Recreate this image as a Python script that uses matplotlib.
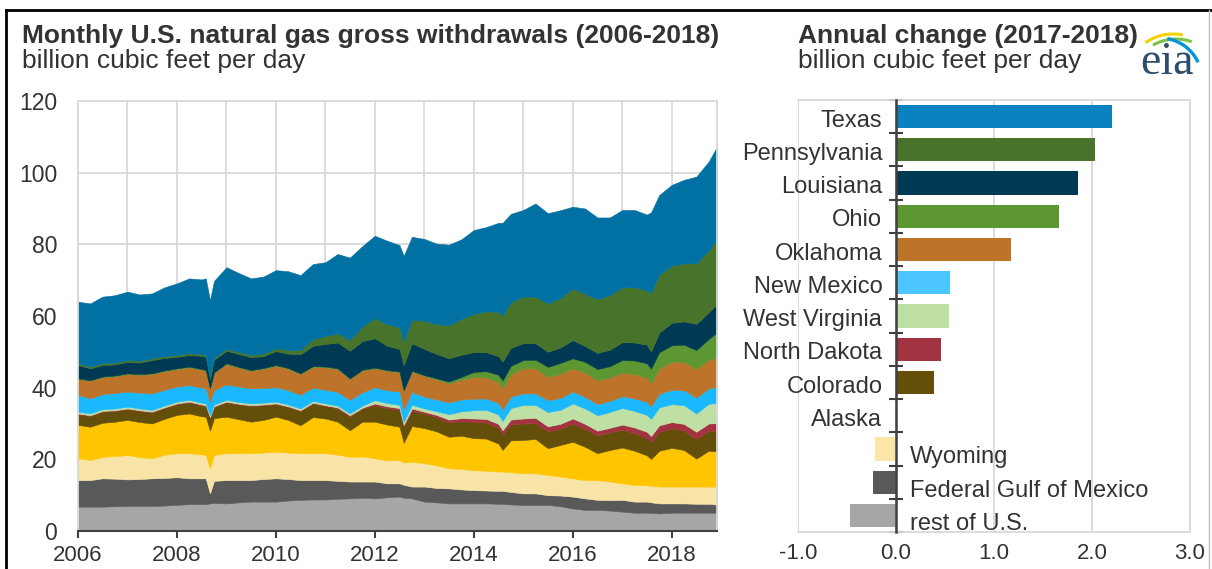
import matplotlib
matplotlib.use("Agg")
import matplotlib.pyplot as plt
import matplotlib.dates as mdates
from matplotlib.lines import Line2D
from matplotlib.patches import Arc
import pandas as pd

plt.rcParams["font.family"] = ["Liberation Sans", "DejaVu Sans"]

# monthly snapshots (bcf/d), stacked bottom -> top
months = ["2006-01", "2006-04", "2006-07", "2006-10", "2007-01", "2007-04", "2007-07", "2007-10",
          "2008-01", "2008-04", "2008-07", "2008-08", "2008-09", "2008-10", "2009-01", "2009-04",
          "2009-07", "2009-10", "2010-01", "2010-04", "2010-07", "2010-10", "2011-01", "2011-04",
          "2011-07", "2011-10", "2012-01", "2012-04", "2012-07", "2012-08", "2012-10", "2013-01",
          "2013-04", "2013-07", "2013-10", "2014-01", "2014-04", "2014-07", "2014-08", "2014-10",
          "2015-01", "2015-04", "2015-07", "2015-10", "2016-01", "2016-04", "2016-07", "2016-10",
          "2017-01", "2017-04", "2017-07", "2017-08", "2017-10", "2018-01", "2018-04", "2018-07",
          "2018-10", "2018-12"]

rest_of_us = [6.8, 6.8, 6.8, 6.9, 7.0, 7.0, 7.0, 7.1, 7.3, 7.5, 7.5, 7.5, 7.7, 7.8, 7.7, 8.0,
              8.2, 8.2, 8.2, 8.5, 8.7, 8.8, 8.8, 9.0, 9.1, 9.3, 9.1, 9.4, 9.6, 9.3, 9.1, 8.2,
              8.0, 7.7, 7.7, 7.7, 7.7, 7.6, 7.6, 7.4, 7.3, 7.3, 7.3, 6.9, 6.3, 5.9, 5.9, 5.7,
              5.4, 5.1, 5.1, 5.1, 4.9, 5.1, 5.1, 5.1, 5.1, 5.1]
gulf_of_mexico = [7.4, 7.4, 7.9, 7.7, 7.4, 7.5, 7.7, 7.7, 7.7, 7.2, 7.2, 7.2, 2.8, 6.2, 6.5, 6.2,
                  6.0, 6.3, 6.5, 6.0, 5.5, 5.4, 5.4, 5.0, 4.7, 4.5, 4.7, 3.9, 3.7, 3.6, 3.3, 4.2,
                  4.0, 4.2, 3.9, 3.7, 3.6, 3.6, 3.6, 3.5, 3.2, 3.2, 2.7, 3.0, 3.3, 3.2, 2.8, 2.9,
                  3.3, 3.1, 3.1, 2.9, 2.8, 2.6, 2.6, 2.5, 2.5, 2.3]
wyoming = [6.1, 5.6, 6.0, 6.3, 6.8, 6.1, 5.6, 6.5, 6.7, 7.0, 6.7, 6.5, 7.0, 7.2, 7.5, 7.5,
           7.5, 7.4, 7.4, 7.4, 7.5, 7.5, 7.5, 7.3, 6.9, 7.0, 6.5, 6.4, 6.5, 6.2, 6.9, 6.5,
           6.3, 5.6, 5.7, 5.6, 5.5, 5.4, 5.4, 5.5, 5.6, 5.6, 5.6, 5.3, 5.1, 5.1, 5.5, 5.2,
           4.6, 4.6, 4.6, 4.6, 4.7, 4.7, 4.7, 4.8, 4.8, 5.0]
alaska = [9.3, 9.3, 9.5, 9.6, 9.8, 9.8, 9.7, 10.0, 10.7, 11.1, 10.6, 10.7, 10.5, 10.3, 10.2, 9.5,
          8.8, 9.1, 9.8, 9.1, 7.8, 10.1, 9.7, 9.2, 7.4, 9.7, 10.2, 10.0, 9.3, 5.5, 10.0, 9.8,
          9.5, 8.8, 9.3, 8.9, 9.0, 7.8, 6.0, 8.9, 9.3, 9.6, 7.5, 8.8, 10.2, 9.3, 7.5, 8.8,
          10.0, 9.6, 8.3, 7.5, 10.0, 10.8, 10.2, 7.8, 10.0, 9.8]
colorado = [3.0, 3.0, 3.1, 3.0, 3.0, 3.1, 3.1, 3.0, 3.0, 3.1, 3.1, 3.0, 3.6, 3.1, 4.0, 4.1,
            4.4, 4.1, 3.5, 3.6, 4.0, 3.8, 3.5, 3.7, 3.9, 3.6, 4.6, 4.6, 4.7, 4.5, 4.3, 4.1,
            4.0, 4.0, 4.0, 4.6, 4.5, 4.4, 4.4, 4.5, 4.6, 4.4, 4.7, 4.5, 5.1, 5.0, 5.0, 4.9,
            5.0, 4.9, 4.9, 4.8, 5.3, 5.4, 5.4, 5.5, 5.6, 5.8]
north_dakota = [0.2, 0.2, 0.2, 0.2, 0.2, 0.2, 0.2, 0.2, 0.2, 0.2, 0.2, 0.2, 0.2, 0.2, 0.2, 0.2,
                0.2, 0.2, 0.2, 0.2, 0.2, 0.2, 0.2, 0.3, 0.3, 0.3, 0.5, 0.5, 0.5, 0.5, 0.6, 0.5,
                0.6, 0.8, 0.9, 0.9, 1.0, 1.1, 1.1, 1.3, 1.4, 1.5, 1.4, 1.4, 1.4, 1.4, 1.3, 1.3,
                1.4, 1.6, 1.7, 1.6, 1.8, 1.8, 1.9, 2.0, 2.0, 2.1]
west_virginia = [0.5, 0.5, 0.5, 0.5, 0.5, 0.5, 0.5, 0.5, 0.5, 0.5, 0.5, 0.5, 0.5, 0.5, 0.5, 0.5,
                 0.5, 0.5, 0.5, 0.5, 0.5, 0.5, 0.5, 0.5, 0.5, 0.6, 0.9, 0.9, 0.9, 0.9, 1.0, 0.9,
                 1.0, 1.5, 1.9, 2.3, 2.5, 2.6, 2.6, 3.2, 3.8, 3.6, 4.0, 3.9, 4.2, 4.3, 4.3, 4.4,
                 4.6, 4.6, 4.7, 4.8, 5.0, 5.0, 5.2, 5.1, 5.5, 5.6]
new_mexico = [4.7, 4.2, 4.2, 4.3, 4.2, 4.4, 4.6, 4.4, 4.2, 4.1, 4.2, 4.2, 3.6, 4.0, 4.3, 4.3,
              4.2, 4.1, 4.0, 4.0, 3.8, 3.7, 3.8, 3.8, 3.8, 3.7, 3.6, 3.6, 3.7, 3.4, 3.6, 3.3,
              3.3, 3.3, 3.3, 3.2, 3.2, 3.2, 3.2, 3.2, 3.2, 3.2, 3.3, 3.3, 3.3, 3.2, 3.1, 3.1,
              3.3, 3.5, 3.6, 3.5, 3.8, 4.0, 4.2, 4.4, 4.3, 4.5]
oklahoma = [4.4, 4.9, 4.7, 4.7, 4.9, 5.0, 5.4, 5.2, 4.9, 5.0, 5.0, 4.9, 3.8, 4.8, 5.7, 5.3,
            4.9, 5.4, 6.0, 6.0, 5.8, 5.8, 6.3, 6.4, 5.8, 6.1, 5.3, 5.4, 5.4, 5.2, 5.7, 5.8,
            5.6, 5.3, 5.5, 6.1, 5.8, 5.9, 5.9, 6.3, 7.0, 7.0, 6.5, 6.8, 6.5, 6.8, 6.7, 6.5,
            6.6, 6.8, 6.8, 6.5, 7.0, 7.8, 7.9, 8.0, 8.0, 8.2]
ohio = [0.2, 0.2, 0.2, 0.2, 0.2, 0.2, 0.2, 0.2, 0.2, 0.2, 0.2, 0.2, 0.2, 0.2, 0.2, 0.2,
        0.2, 0.2, 0.2, 0.2, 0.2, 0.2, 0.2, 0.2, 0.2, 0.2, 0.2, 0.2, 0.2, 0.2, 0.2, 0.2,
        0.3, 0.5, 0.8, 1.4, 1.8, 2.0, 2.2, 2.3, 2.3, 2.4, 2.8, 3.0, 2.8, 3.0, 3.1, 3.2,
        3.5, 3.8, 4.0, 4.0, 4.6, 4.6, 4.8, 5.3, 5.8, 7.0]
louisiana = [3.7, 3.3, 3.2, 3.1, 3.2, 3.2, 3.7, 3.5, 3.2, 3.2, 3.7, 3.7, 2.5, 3.5, 3.5, 3.6,
             3.6, 3.3, 3.9, 4.0, 5.3, 5.7, 6.3, 7.2, 7.7, 8.0, 8.2, 6.8, 6.3, 7.0, 7.7, 7.3,
             6.8, 6.5, 6.2, 5.5, 5.3, 5.2, 5.3, 5.0, 4.7, 4.6, 4.2, 4.3, 5.1, 4.4, 4.5, 4.6,
             5.0, 5.0, 5.2, 4.8, 5.5, 6.3, 6.5, 7.3, 7.4, 8.0]
pennsylvania = [0.5, 0.5, 0.5, 0.5, 0.5, 0.5, 0.5, 0.5, 0.5, 0.5, 0.5, 0.5, 0.5, 0.5, 0.5, 0.6,
                0.6, 0.7, 0.8, 1.0, 1.2, 1.8, 2.2, 2.6, 3.0, 4.0, 5.6, 6.0, 6.0, 6.5, 6.5, 7.9,
                8.3, 9.3, 10.0, 10.7, 11.4, 12.4, 12.8, 12.8, 13.0, 13.0, 13.5, 13.8, 14.4, 14.6, 15.0, 15.2,
                15.3, 15.4, 15.2, 16.3, 16.2, 15.9, 16.2, 16.9, 17.3, 18.2]
texas = [17.2, 17.6, 18.6, 18.8, 19.1, 18.5, 18.1, 19.2, 20.0, 20.9, 20.8, 21.4, 21.5, 21.5, 22.8, 22.0,
         21.4, 21.5, 21.8, 22.0, 20.9, 21.0, 20.6, 22.1, 23.0, 22.5, 23.0, 23.3, 23.0, 24.0, 23.2, 22.8,
         22.5, 22.4, 22.2, 23.4, 23.5, 24.8, 25.9, 24.6, 24.2, 26.0, 25.2, 24.5, 22.8, 23.8, 22.8, 21.7,
         21.6, 21.6, 21.1, 22.5, 22.2, 22.6, 23.3, 24.2, 24.8, 25.7]

area_colors = ["#a6a6a6", "#595959", "#f9e4a8", "#ffc600", "#634f0a", "#a33340", "#bfe0a5",
               "#1ab9ff", "#bd732a", "#5d9732", "#003953", "#48732b", "#0071a2"]

# annual change 2017-2018, top -> bottom
states = ["Texas", "Pennsylvania", "Louisiana", "Ohio", "Oklahoma", "New Mexico", "West Virginia",
          "North Dakota", "Colorado", "Alaska", "Wyoming", "Federal Gulf of Mexico", "rest of U.S."]
change = [2.20, 2.03, 1.86, 1.66, 1.17, 0.55, 0.54, 0.46, 0.39, 0.0, -0.21, -0.23, -0.47]
bar_colors = ["#0a82bf", "#48732b", "#003953", "#5d9732", "#bd732a", "#4dc6ff", "#bfe0a5",
              "#a33340", "#634f0a", "#ffc600", "#fbe5a7", "#595959", "#a6a6a6"]

TXT = "#333333"
GRID = "#d9d9d9"
AXIS = "#404040"
W, H = 1212, 569


def box(l, t, r, b):
    return [l / W, 1 - b / H, (r - l) / W, (b - t) / H]


fig = plt.figure(figsize=(W / 100, H / 100), dpi=100)

# left: stacked area
ax1 = fig.add_axes(box(78, 101, 717, 531))
dates = pd.to_datetime(months)
layers = [rest_of_us, gulf_of_mexico, wyoming, alaska, colorado, north_dakota, west_virginia,
          new_mexico, oklahoma, ohio, louisiana, pennsylvania, texas]
polys = ax1.stackplot(dates, *layers, colors=area_colors)
for p, c in zip(polys, area_colors):
    p.set_edgecolor(c)
    p.set_linewidth(0.4)

ax1.set_xlim(pd.Timestamp("2006-01-01"), pd.Timestamp("2018-12-01"))
ax1.set_ylim(0, 120)
ax1.set_yticks(range(0, 121, 20))
ax1.xaxis.set_major_locator(mdates.YearLocator(2))
ax1.xaxis.set_minor_locator(mdates.YearLocator(1))
ax1.xaxis.set_major_formatter(mdates.DateFormatter("%Y"))
ax1.set_axisbelow(True)
ax1.grid(which="both", axis="x", color=GRID, lw=1.3)
ax1.grid(axis="y", color=GRID, lw=1.3)
ax1.tick_params(axis="y", length=0, pad=15, labelsize=16.5, labelcolor=TXT)
ax1.tick_params(axis="x", which="major", length=5, width=1.5, color=AXIS, pad=5,
                labelsize=16, labelcolor=TXT)
ax1.tick_params(axis="x", which="minor", length=0)
for s in ["top", "right", "left"]:
    ax1.spines[s].set_color(GRID)
    ax1.spines[s].set_linewidth(1.3)
ax1.spines["bottom"].set_color(AXIS)
ax1.spines["bottom"].set_linewidth(1.5)

# right: annual change bars
ax2 = fig.add_axes(box(798, 100, 1190, 532))
ypos = list(range(len(states)))
ax2.barh(ypos, change, height=0.7, color=bar_colors, zorder=2)
ax2.set_xlim(-1, 3)
ax2.set_ylim(len(states) - 0.5, -0.5)
ax2.set_xticks([-1, 0, 1, 2, 3])
ax2.set_xticklabels([f"{v:.1f}" for v in [-1, 0, 1, 2, 3]])
ax2.set_yticks([i - 0.5 for i in range(len(states) + 1)])
ax2.set_yticklabels([])
ax2.set_axisbelow(True)
ax2.grid(axis="x", color=GRID, lw=1.3)
ax2.tick_params(axis="x", length=0, pad=8, labelsize=16, labelcolor=TXT)
ax2.tick_params(axis="y", direction="inout", length=10, width=1.5, color=AXIS)
for s in ["top", "right", "bottom"]:
    ax2.spines[s].set_color(GRID)
    ax2.spines[s].set_linewidth(1.3)
ax2.spines["left"].set_position(("data", 0))
ax2.spines["left"].set_color(AXIS)
ax2.spines["left"].set_linewidth(1.8)
ax2.spines["left"].set_zorder(3)

for i, (name, v) in enumerate(zip(states, change)):
    if v >= 0:
        ax2.text(-0.14, i + 0.05, name, ha="right", va="center_baseline", fontsize=17, color=TXT)
    else:
        ax2.text(0.14, i + 0.18, name, ha="left", va="center_baseline", fontsize=17, color=TXT)

# titles
fig.text(22 / W, 1 - 43 / H, "Monthly U.S. natural gas gross withdrawals (2006-2018)",
         fontsize=19, fontweight="bold", color=TXT, va="baseline")
fig.text(22 / W, 1 - 68 / H, "billion cubic feet per day", fontsize=19, color=TXT, va="baseline")
fig.text(798 / W, 1 - 43 / H, "Annual change (2017-2018)",
         fontsize=19, fontweight="bold", color=TXT, va="baseline")
fig.text(798 / W, 1 - 68 / H, "billion cubic feet per day", fontsize=19, color=TXT, va="baseline")

# eia logo
lg = fig.add_axes(box(1136, 22, 1208, 80))
lg.set_xlim(1136, 1208)
lg.set_ylim(80, 22)
lg.axis("off")
lg.add_patch(Arc((1173, 82), 96, 96, theta1=-125, theta2=-78, color="#f2d200", lw=2.2))
lg.add_patch(Arc((1176, 85), 92, 92, theta1=-120, theta2=-70, color="#7dc242", lw=2.2))
lg.add_patch(Arc((1160, 80), 84, 84, theta1=-80, theta2=-25, color="#0095d5", lw=2.4))
lg.text(1167, 74, "eia", fontsize=33, family="Liberation Serif", color="#2e4d6e",
        ha="center", va="baseline")

# screenshot frame
fig.add_artist(Line2D([6 / W, 6 / W], [0, 1 - 10 / H], color="black", lw=2))
fig.add_artist(Line2D([6 / W, 1], [1 - 10 / H, 1 - 10 / H], color="black", lw=2))
fig.add_artist(Line2D([1209 / W, 1209 / W], [0, 1 - 10 / H], color="#bfbfbf", lw=1))

fig.savefig("out.png", dpi=100)
